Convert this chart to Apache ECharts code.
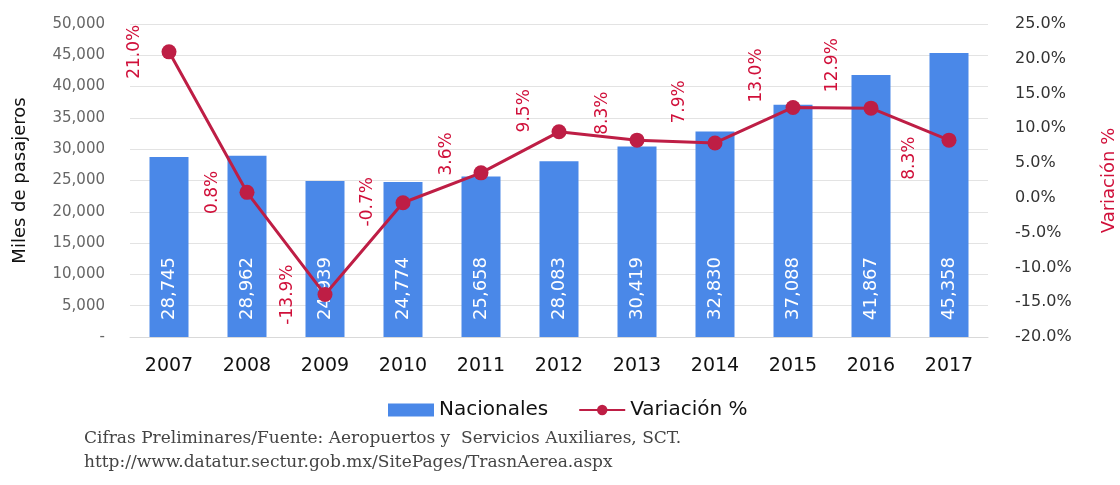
<!DOCTYPE html>
<html>
<head>
<meta charset="utf-8">
<script src="https://cdn.jsdelivr.net/npm/echarts@6/dist/echarts.min.js"></script>
<style>
html,body{margin:0;padding:0;background:#fff;}
#c{width:1120px;height:485px;}
</style>
</head>
<body>
<div id="c"></div>
<script>
var years = ['2007','2008','2009','2010','2011','2012','2013','2014','2015','2016','2017'];
var nacionales = [28745, 28962, 24939, 24774, 25658, 28083, 30419, 32830, 37088, 41867, 45358];
var variacion = [21.0, 0.8, -13.9, -0.7, 3.6, 9.5, 8.3, 7.9, 13.0, 12.9, 8.3];
var leftTickLabels = ['-', '5,000', '10,000', '15,000', '20,000', '25,000', '30,000', '35,000', '40,000', '45,000', '50,000'];
var rightTickLabels = ['-20.0%', '-15.0%', '-10.0%', '-5.0%', '0.0%', '5.0%', '10.0%', '15.0%', '20.0%', '25.0%'];
var footer1 = 'Cifras Preliminares/Fuente: Aeropuertos y  Servicios Auxiliares, SCT.';
var footer2 = 'http://www.datatur.sectur.gob.mx/SitePages/TrasnAerea.aspx';

// label placement on screen (style only): [dx, dy] from the point
var labelShift = [[-34,0],[-34,0],[-37,0],[-35,-1],[-34,-19],[-34,-21],[-34,-27],[-35,-41],[-36,-32],[-38,-43],[-39,18]];

var chart = echarts.init(document.getElementById('c'));
var sans = 'DejaVu Sans';
var lineData = variacion.map(function(v, i){
  var s = labelShift[i];
  // label is rotated 90deg, offset works in the rotated frame
  return {value: v, label: {offset: [-s[1], s[0]]}};
});
chart.setOption({
  animation: false,
  backgroundColor: '#fff',
  grid: {left: 130, right: 132, top: 24, bottom: 148, containLabel: false, outerBoundsMode: 'none'},
  legend: {
    left: 383, top: 395,
    itemWidth: 46, itemHeight: 13, itemGap: 30,
    textStyle: {fontFamily: sans, fontSize: 20, color: '#111'},
    data: [{name: 'Nacionales', icon: 'rect'}, {name: 'Variación %'}]
  },
  xAxis: {
    type: 'category', data: years,
    axisLine: {lineStyle: {color: '#d9d9d9', width: 1}},
    axisTick: {show: false},
    axisLabel: {fontFamily: sans, fontSize: 19, color: '#111', margin: 20}
  },
  yAxis: [{
    type: 'value', min: 0, max: 50000, interval: 5000,
    name: 'Miles de pasajeros', nameLocation: 'middle', nameRotate: 90, nameGap: 101,
    nameTextStyle: {fontFamily: sans, fontSize: 18, color: '#111'},
    axisLine: {show: false}, axisTick: {show: false},
    splitLine: {lineStyle: {color: '#e3e3e3', width: 1}},
    axisLabel: {fontFamily: sans, fontSize: 15, color: '#666', margin: 25,
      formatter: function(v){ return leftTickLabels[Math.round(v/5000)]; }}
  }, {
    type: 'value', min: -20, max: 25, interval: 5, position: 'right',
    alignTicks: false,
    name: 'Variación %', nameLocation: 'middle', nameRotate: 90, nameGap: 112,
    nameTextStyle: {fontFamily: sans, fontSize: 18, color: '#d0103a'},
    axisLine: {show: false}, axisTick: {show: false}, splitLine: {show: false},
    axisLabel: {fontFamily: sans, fontSize: 16, color: '#333', margin: 27, align: 'left',
      formatter: function(v){ return rightTickLabels[Math.round((v+20)/5)]; }}
  }],
  series: [{
    name: 'Nacionales', type: 'bar', data: nacionales, barWidth: 39,
    itemStyle: {color: '#4a88e8'},
    label: {
      show: true, position: 'insideBottom', rotate: 90, distance: 17,
      align: 'left', verticalAlign: 'middle',
      fontFamily: sans, fontSize: 18, color: '#fff',
      formatter: function(p){ return p.value.toLocaleString('en-US'); }
    }
  }, {
    name: 'Variación %', type: 'line', yAxisIndex: 1, data: lineData,
    symbol: 'circle', symbolSize: 15,
    lineStyle: {color: '#be1e45', width: 3},
    itemStyle: {color: '#be1e45'},
    label: {
      show: true, position: 'inside', rotate: 90, align: 'center', verticalAlign: 'middle',
      fontFamily: sans, fontSize: 17, color: '#d0103a',
      formatter: function(p){ return p.value.toFixed(1) + '%'; }
    },
    z: 5
  }],
  graphic: [
    {type: 'text', left: 84, top: 430, style: {text: footer1, fontFamily: 'DejaVu Serif', fontSize: 17, fill: '#444'}},
    {type: 'text', left: 84, top: 454, style: {text: footer2, fontFamily: 'DejaVu Serif', fontSize: 17, fill: '#444'}}
  ]
});
</script>
</body>
</html>
